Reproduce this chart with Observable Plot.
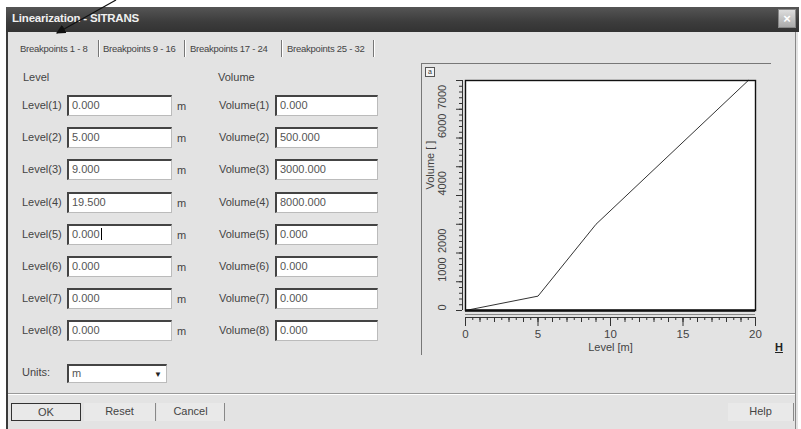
<!DOCTYPE html>
<html>
<head>
<meta charset="utf-8">
<script src="https://cdn.jsdelivr.net/npm/d3@7"></script>
<script src="https://cdn.jsdelivr.net/npm/@observablehq/plot@0.6"></script>
<style>
  html, body { margin: 0; padding: 0; width: 801px; height: 429px; background: #fff; overflow: hidden; }
  body { position: relative; font-family: "Liberation Sans", Arial, sans-serif; font-size: 11px; color: #444; }
  .abs { position: absolute; }
  #dialog { left: 6px; top: 7px; width: 792px; height: 422px; background: #e3e3e3; border-left: 2px solid #3a3a3a; box-sizing: border-box; }
  #titlebar { left: 6px; top: 7px; width: 793px; height: 25px; background: linear-gradient(#555, #3c3c3c 60%, #333); }
  #title { left: 12px; top: 12px; color: #f0f0f0; font-weight: bold; font-size: 11.5px; letter-spacing: -0.2px; }
  #close { left: 778px; top: 9px; width: 18px; height: 19px; background: linear-gradient(#ddd, #aaa); border: 1px solid #888; box-sizing: border-box; color: #fff; font-weight: bold; font-size: 13px; text-align: center; line-height: 17px; }
  .tab { top: 43px; font-size: 9.5px; letter-spacing: -0.25px; color: #444; white-space: nowrap; }
  .tabsep { top: 40px; width: 1px; height: 17px; background: #777; border-right: 1px solid #fff; }
  .lbl { white-space: nowrap; }
  .box { width: 105px; height: 21px; background: #fff; border-top: 2px solid #444; border-left: 2px solid #444; border-right: 1px solid #bbb; border-bottom: 1px solid #bbb; box-sizing: border-box; padding-left: 3px; line-height: 17px; color: #555; font-size: 11px; }
  .btn { top: 403px; height: 18px; background: #e9e9e9; box-sizing: border-box; text-align: center; line-height: 16px; color: #444; }
</style>
</head>
<body>
<div id="dialog" class="abs"></div>
<div id="titlebar" class="abs"></div>
<div id="title" class="abs">Linearization - SITRANS</div>
<div id="close" class="abs">×</div>
<div id="tabs"></div>
<div id="form"></div>
<div class="abs" style="left:8px;top:393px;width:788px;height:1px;background:#999;border-bottom:1px solid #fff"></div>
<div class="abs" style="left:795px;top:32px;width:1px;height:397px;background:#888"></div>
<!-- group box for chart -->
<div class="abs" style="left:421px;top:63px;width:349px;height:291px;border-top:1px solid #777;border-left:1px solid #777"></div>
<div class="abs" style="left:425px;top:67px;width:8px;height:8px;border:1px solid #555;background:#f4f4f4;font-size:7px;line-height:7px;text-align:center;color:#333">a</div>
<div id="chart" class="abs" style="left:422px;top:63px"></div>
<div class="abs" style="left:775px;top:341px;font-weight:bold;font-size:11px;color:#222;text-decoration:underline">H</div>
<div class="abs btn" style="left:11px;width:70px;border:1px solid #333;">OK</div>
<div class="abs btn" style="left:84px;width:72px;border-right:1px solid #888;">Reset</div>
<div class="abs btn" style="left:157px;width:68px;border-right:1px solid #888;">Cancel</div>
<div class="abs btn" style="left:728px;width:66px;border-right:1px solid #888;">Help</div>
<svg class="abs" style="left:0;top:0" width="801" height="60">
  <defs><marker id="ah" markerWidth="8" markerHeight="8" refX="7" refY="4" orient="auto"><path d="M0,0 L8,4 L0,8 z" fill="#111"/></marker></defs>
  <line x1="116" y1="0" x2="57" y2="33" stroke="#111" stroke-width="1.2" marker-end="url(#ah)"/>
</svg>
<script>
// ---- data ----
const tabNames = ["Breakpoints 1 - 8", "Breakpoints 9 - 16", "Breakpoints 17 - 24", "Breakpoints 25 - 32"];
const levelNames = ["Level(1)", "Level(2)", "Level(3)", "Level(4)", "Level(5)", "Level(6)", "Level(7)", "Level(8)"];
const volumeNames = ["Volume(1)", "Volume(2)", "Volume(3)", "Volume(4)", "Volume(5)", "Volume(6)", "Volume(7)", "Volume(8)"];
const levels = [0, 5, 9, 19.5, 0, 0, 0, 0];
const volumes = [0, 500, 3000, 8000, 0, 0, 0, 0];
const unitLabel = "m";
const xMajorTicks = [0, 5, 10, 15, 20];
const yLabelTicks = [0, 1000, 2000, 4000, 6000, 7000];
const xLabel = "Level [m]";
const yLabel = "Volume [ ]";

// ---- tabs ----
const tabX = [20, 103, 190, 287];
const sepX = [98, 184, 281, 373];
const tabs = document.getElementById("tabs");
tabNames.forEach((t, i) => {
  const d = document.createElement("div");
  d.className = "abs tab"; d.style.left = tabX[i] + "px"; d.textContent = t;
  tabs.appendChild(d);
  const s = document.createElement("div");
  s.className = "abs tabsep"; s.style.left = sepX[i] + "px";
  tabs.appendChild(s);
});

// ---- form ----
const form = document.getElementById("form");
function add(html) { form.insertAdjacentHTML("beforeend", html); }
add(`<div class="abs lbl" style="left:23px;top:71px">Level</div>`);
add(`<div class="abs lbl" style="left:218px;top:71px">Volume</div>`);
levels.forEach((v, i) => {
  const top = 95 + Math.round(i * 32.2);
  add(`<div class="abs lbl" style="left:22px;top:${top + 4}px">${levelNames[i]}</div>`);
  add(`<div class="abs box" style="left:67px;top:${top}px">${v.toFixed(3)}${i === 4 ? '<span style="border-left:1px solid #000;margin-left:1px"></span>' : ''}</div>`);
  add(`<div class="abs lbl" style="left:177px;top:${top + 5}px">${unitLabel}</div>`);
  add(`<div class="abs lbl" style="left:219px;top:${top + 4}px">${volumeNames[i]}</div>`);
  add(`<div class="abs box" style="left:275px;top:${top}px;width:103px">${volumes[i].toFixed(3)}</div>`);
});
add(`<div class="abs lbl" style="left:22px;top:366px">Units:</div>`);
add(`<div class="abs box" style="left:67px;top:364px;width:100px;height:19px;line-height:15px">${unitLabel}<span style="position:absolute;right:1px;top:1px;width:14px;height:14px;font-size:8px;text-align:center;color:#222">▼</span></div>`);

// ---- chart ----
// curve uses breakpoints while the level keeps increasing
const points = [];
for (let i = 0; i < levels.length; i++) {
  if (i > 0 && levels[i] <= levels[i - 1]) break;
  points.push({level: levels[i], volume: volumes[i]});
}
const xMinor = d3.range(0, 20.01, 0.5);
const xMid = d3.range(0, 21, 1);
const yMinor = d3.range(0, 8001, 200);
const yMid = d3.range(0, 8001, 1000);

const chart = Plot.plot({
  width: 348, height: 292,
  marginLeft: 43, marginRight: 15, marginTop: 17, marginBottom: 45,
  x: {domain: [0, 20], axis: null, label: null},
  y: {domain: [0, 8000], axis: null, label: null},
  style: {background: "transparent", fontFamily: "'Liberation Sans', Arial, sans-serif", fontSize: "11px", color: "#444", overflow: "visible"},
  marks: [
    Plot.frame({fill: "white", stroke: null}),
    Plot.line(points, {x: "level", y: "volume", stroke: "#333", strokeWidth: 1}),
    Plot.frame({stroke: "#111", strokeWidth: 1.4}),
    Plot.ruleY([0], {stroke: "#111", strokeWidth: 2.5}),
    Plot.ruleY([0], {stroke: "#888", dy: 4}),
    Plot.ruleY([0], {stroke: "#333", dy: 7}),
    Plot.ruleX([0], {stroke: "#333", dx: -3}),
    Plot.axisX(xMinor, {anchor: "bottom", tickSize: 3, dy: 7, tickFormat: () => "", label: null, stroke: "#333"}),
    Plot.axisX(xMid, {anchor: "bottom", tickSize: 5, dy: 7, tickFormat: () => "", label: null, stroke: "#333"}),
    Plot.axisX(xMajorTicks, {anchor: "bottom", tickSize: 9, dy: 7, tickPadding: 3, label: null, stroke: "#333", fill: "#444", fontSize: 11.5}),
    Plot.text([xLabel], {frameAnchor: "bottom", dy: 40, fill: "#444", fontSize: 11}),
    Plot.axisY(yMinor, {anchor: "left", tickSize: 3, dx: -3, tickFormat: () => "", label: null, stroke: "#333"}),
    Plot.axisY(yMid, {anchor: "left", tickSize: 6, dx: -3, tickFormat: () => "", label: null, stroke: "#333"}),
    Plot.text(yLabelTicks, {y: d => d, text: d => String(d), frameAnchor: "left", dx: -23, rotate: -90, fill: "#444", fontSize: 11}),
    Plot.text([yLabel], {frameAnchor: "left", dx: -35, dy: -6, rotate: -90, fill: "#444", fontSize: 11})
  ]
});
document.getElementById("chart").appendChild(chart);
</script>
</body>
</html>
